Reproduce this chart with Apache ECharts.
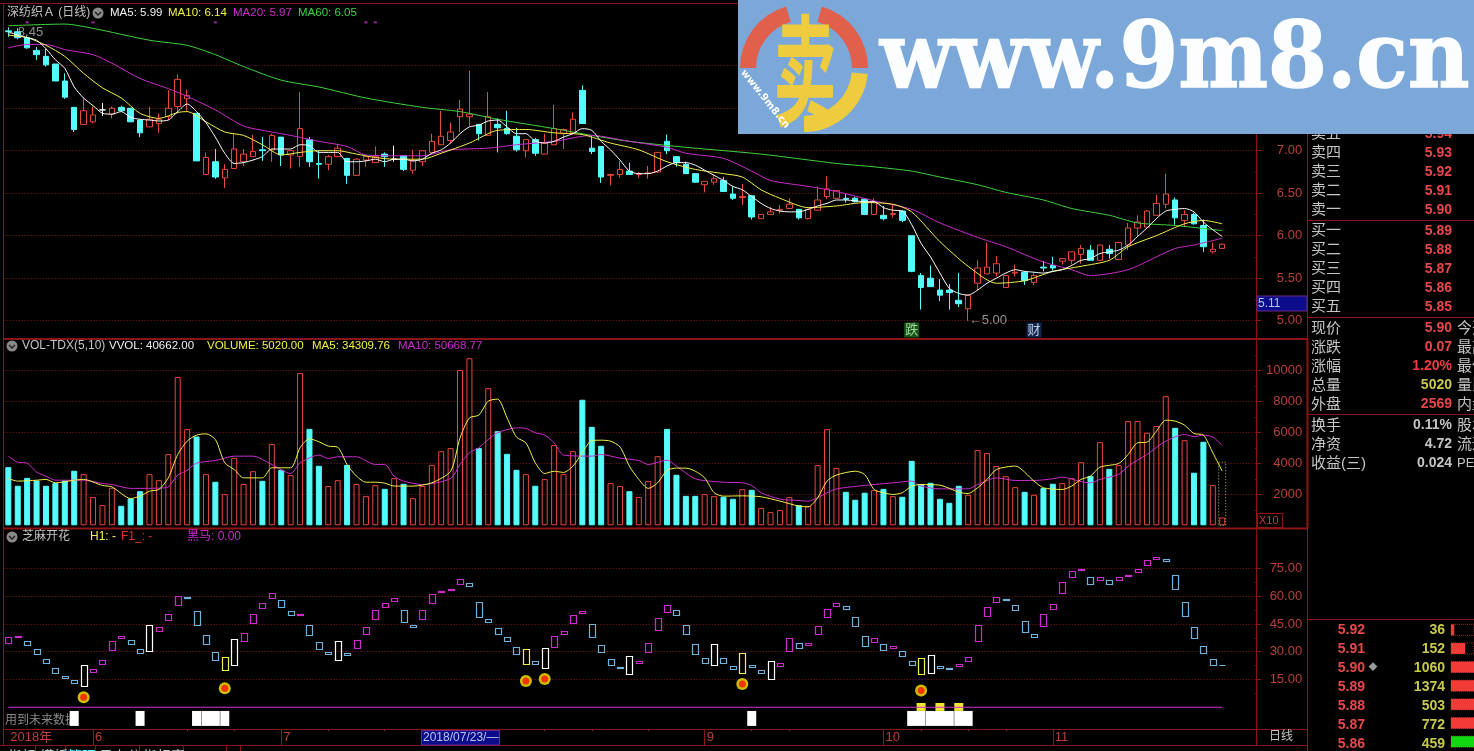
<!DOCTYPE html>
<html>
<head>
<meta charset="utf-8">
<title>深纺织A</title>
<style>
  html, body { margin:0; padding:0; background:#000; overflow:hidden; }
  #chart { width:1474px; height:751px; }
</style>
<script src="https://cdn.jsdelivr.net/npm/echarts@6/dist/echarts.min.js"></script>
</head>
<body>
<div id="chart"></div>
<script>
// candles
var opens = [8.41,8.40,8.33,8.18,8.11,8.02,7.82,7.51,7.31,7.34, 7.48,7.43,7.51,7.50,7.36,7.28,7.32,7.40,7.52,7.61,
  7.44,6.72,6.87,6.68,6.79,6.87,6.93,7.01,7.01,7.16, 6.95,6.93,7.13,6.85,6.84,6.93,6.91,6.71,6.89,6.86,
  6.96,6.90,6.94,6.77,6.87,6.98,7.07,7.12,7.40,7.40, 7.31,7.18,7.31,7.26,7.17,7.00,7.13,6.96,7.07,7.20,
  7.21,7.71,7.03,7.05,6.71,6.72,6.76,6.72,6.73,6.75, 7.11,6.93,6.84,6.73,6.60,6.63,6.65,6.49,6.45,6.47,
  6.20,6.25,6.30,6.32,6.31,6.20,6.30,6.46,6.44,6.44, 6.44,6.43,6.25,6.24,6.25,6.29,6.00,5.53,5.50,5.36,
  5.36,5.24,5.14,5.44,5.55,5.56,5.39,5.56,5.57,5.45, 5.63,5.65,5.70,5.71,5.78,5.83,5.71,5.84,5.72,5.89,
  6.09,6.10,6.24,6.37,6.42,6.18,6.25,6.12,5.81,5.85];
var closes = [8.40,8.33,8.21,8.13,8.01,7.82,7.63,7.25,7.47,7.42, 7.48,7.50,7.47,7.34,7.21,7.37,7.37,7.50,7.84,7.65,
  6.88,6.92,6.69,6.78,7.02,6.96,6.99,7.00,7.18,6.95, 7.00,7.26,6.87,6.84,6.93,7.03,6.71,6.90,6.93,6.93,
  6.93,6.90,6.78,6.88,7.00,7.11,7.17,7.22,7.49,7.43, 7.20,7.40,7.27,7.20,7.01,7.13,6.97,7.09,7.26,7.25,
  7.37,7.32,6.99,6.69,6.72,6.78,6.72,6.73,6.74,6.98, 7.00,6.86,6.73,6.63,6.64,6.67,6.52,6.44,6.46,6.22,
  6.25,6.28,6.31,6.37,6.21,6.31,6.42,6.55,6.53,6.43, 6.40,6.25,6.40,6.20,6.26,6.18,5.58,5.39,5.40,5.30,
  5.33,5.20,5.30,5.62,5.63,5.67,5.53,5.57,5.47,5.53, 5.62,5.62,5.73,5.81,5.85,5.71,5.89,5.79,5.92,6.09,
  6.16,6.29,6.38,6.49,6.21,6.25,6.14,5.87,5.84,5.90];
var lows = [8.34,8.31,8.20,8.07,7.99,7.82,7.61,7.22,7.31,7.32, 7.41,7.38,7.46,7.34,7.16,7.28,7.21,7.36,7.44,7.47,
  6.88,6.72,6.67,6.56,6.79,6.82,6.93,6.88,6.87,6.82, 6.79,6.81,6.81,6.67,6.77,6.93,6.61,6.71,6.81,6.86,
  6.81,6.87,6.76,6.73,6.82,6.98,7.07,7.09,7.22,7.29, 7.12,7.18,6.98,7.19,6.99,6.92,6.94,6.96,7.07,7.02,
  7.21,7.32,6.96,6.62,6.59,6.68,6.72,6.68,6.67,6.74, 6.96,6.81,6.73,6.62,6.51,6.60,6.52,6.42,6.36,6.19,
  6.20,6.25,6.26,6.32,6.19,6.19,6.30,6.43,6.44,6.39, 6.39,6.25,6.25,6.18,6.21,6.16,5.57,5.13,5.40,5.23,
  5.13,5.16,5.00,5.36,5.55,5.52,5.39,5.52,5.42,5.42, 5.58,5.59,5.66,5.66,5.67,5.71,5.71,5.73,5.72,5.83,
  5.99,6.10,6.24,6.32,6.13,6.10,6.13,5.81,5.79,5.85];
var highs = [8.45,8.44,8.35,8.22,8.20,8.02,7.91,7.51,7.62,7.52, 7.56,7.52,7.53,7.50,7.36,7.52,7.44,7.71,7.90,7.72,
  7.44,6.98,7.02,6.84,7.20,7.02,7.19,7.16,7.20,7.16, 7.00,7.69,7.16,7.00,6.95,7.08,6.91,6.91,6.93,7.05,
  6.98,7.06,6.94,7.01,7.00,7.20,7.47,7.33,7.60,7.94, 7.31,7.69,7.38,7.47,7.27,7.13,7.15,7.20,7.54,7.26,
  7.45,7.77,7.18,7.05,6.73,6.88,6.86,6.75,6.82,6.98, 7.19,6.93,6.87,6.73,6.64,6.72,6.69,6.58,6.61,6.48,
  6.25,6.34,6.36,6.44,6.31,6.31,6.58,6.70,6.53,6.49, 6.46,6.43,6.44,6.35,6.37,6.30,6.00,5.56,5.65,5.49,
  5.43,5.56,5.30,5.71,5.92,5.76,5.53,5.66,5.58,5.56, 5.70,5.75,5.73,5.81,5.89,5.89,5.89,5.89,5.93,6.15,
  6.24,6.30,6.48,6.73,6.45,6.30,6.27,6.19,5.92,5.91];

var ma5 = [8.40,8.36,8.33,8.30,8.20,8.07,7.97,7.75,7.62,7.53, 7.44,7.43,7.46,7.39,7.37,7.36,7.35,7.36,7.46,7.55,
  7.46,7.33,7.16,6.97,6.85,6.86,6.89,6.93,7.02,7.02, 7.02,7.07,7.06,6.98,6.98,6.98,6.87,6.87,6.88,6.90,
  6.87,6.90,6.90,6.88,6.90,6.97,7.01,7.09,7.20,7.28, 7.30,7.35,7.36,7.28,7.20,7.20,7.11,7.09,7.11,7.16,
  7.20,7.26,7.24,7.11,7.01,6.89,6.76,6.73,6.73,6.76, 6.82,6.86,6.86,6.83,6.77,6.71,6.65,6.58,6.54,6.46,
  6.38,6.32,6.29,6.28,6.28,6.31,6.35,6.38,6.42,6.42, 6.41,6.40,6.40,6.33,6.30,6.29,6.13,5.91,5.75,5.56,
  5.38,5.32,5.30,5.36,5.44,5.50,5.56,5.60,5.58,5.57, 5.56,5.58,5.60,5.65,5.71,5.73,5.79,5.81,5.83,5.89,
  5.99,6.09,6.20,6.29,6.31,6.32,6.28,6.16,6.07,5.99];
// slower averages, sampled as [bar, value]
var ma10 = [[0,8.36],[2,8.33],[4,8.24],[6,8.11],[8,7.91],[10,7.74],[12,7.62],[14,7.44],[16,7.38],[18,7.45],[19,7.46],[21,7.34],[23,7.22],[25,7.18],[27,7.07],[29,6.95],[31,6.98],[33,7.00],[35,7.00],[37,6.96],[39,6.92],[41,6.90],[44,6.90],[46,6.97],[49,7.09],[52,7.24],[55,7.25],[58,7.21],[61,7.19],[64,7.09],[67,7.01],[70,6.87],[73,6.78],[76,6.73],[78,6.69],[80,6.54],[82,6.44],[85,6.33],[88,6.35],[91,6.39],[94,6.37],[96,6.28],[99,5.93],[102,5.64],[105,5.44],[108,5.47],[111,5.58],[114,5.64],[117,5.71],[119,5.87],[122,6.00],[125,6.14],[127,6.18],[129,6.14]];
var ma20 = [[0,8.21],[2,8.25],[4,8.25],[6,8.19],[9,8.13],[11,8.03],[14,7.85],[17,7.73],[19,7.64],[22,7.48],[25,7.29],[27,7.24],[30,7.18],[33,7.11],[36,7.05],[38,6.95],[41,6.94],[44,6.94],[47,7.01],[51,7.03],[54,7.07],[58,7.11],[62,7.18],[66,7.11],[70,7.04],[72,6.97],[76,6.91],[79,6.76],[81,6.65],[85,6.58],[88,6.52],[92,6.41],[96,6.31],[99,6.15],[103,5.98],[106,5.87],[110,5.69],[113,5.60],[115,5.53],[119,5.60],[122,5.75],[124,5.85],[126,5.89],[129,5.97]];
var ma60 = [[0,8.47],[6,8.49],[9,8.44],[15,8.30],[19,8.24],[22,8.13],[25,7.99],[29,7.83],[33,7.75],[38,7.62],[44,7.51],[48,7.46],[52,7.37],[58,7.26],[62,7.18],[66,7.11],[72,7.04],[80,6.96],[88,6.85],[92,6.81],[96,6.76],[99,6.69],[103,6.60],[106,6.51],[110,6.42],[113,6.32],[117,6.24],[120,6.15],[124,6.12],[129,6.06]];

// volume pane, in the units of its own axis
var volumes = [3750,2550,3060,2890,2550,2720,2890,3520,3300,1820, 1300,2420,1260,1730,2200,3300,2910,4590,9560,6200,
  5730,3300,2810,2010,4350,2660,3490,2870,5240,3580, 3240,9820,6220,3840,2530,2910,3900,2660,1880,2590,
  2350,3040,2680,1750,2530,3900,4780,4980,10010,10780, 4980,8850,6070,4610,3580,3300,2550,2980,5170,3300,
  4780,8100,6350,5130,2720,2530,2200,1820,2850,4460, 6220,3260,1900,1900,2010,1880,1840,1710,2330,2290,
  1110,850,980,1820,1300,1240,3880,6200,3690,2160, 1650,2100,2270,2350,1880,1840,4160,2660,2740,1710,
  1450,2550,1970,4850,4660,3820,3170,2460,2160,1970, 2400,2680,2720,3040,4070,3190,5360,3640,3880,6720,
  6720,5970,6400,8330,6290,5490,3390,5390,2590,502];
var volForecast = [[129,4070]];
var volMa5 = [[0,3020],[1,2850],[3,2910],[4,2960],[5,2740],[7,2910],[8,2960],[10,2570],[11,2480],[13,1730],[14,1880],[15,2200],[16,2310],[17,3060],[18,4570],[19,5430],[20,5820],[21,5900],[22,5540],[23,4030],[24,3600],[25,3060],[27,3060],[28,3710],[30,3710],[31,5000],[32,5580],[33,5390],[34,5110],[35,5040],[36,3920],[37,3170],[38,2780],[39,2780],[40,2720],[41,2530],[43,2530],[45,2740],[47,3490],[48,5640],[49,6930],[50,7110],[51,8010],[52,8140],[53,6930],[54,5690],[55,5320],[56,4030],[57,3340],[58,3490],[59,3410],[60,3820],[61,4680],[62,5470],[63,5490],[64,5430],[65,5060],[66,3820],[67,2960],[68,2380],[69,2740],[70,3540],[71,3690],[72,3690],[73,3490],[74,3060],[75,2100],[76,1880],[78,1900],[80,1840],[82,1560],[84,1240],[85,1190],[86,1770],[87,2850],[88,3240],[90,3490],[91,3280],[92,2310],[93,2100],[94,1990],[95,2100],[96,2530],[97,2630],[99,2590],[101,2140],[102,2050],[103,2420],[104,2960],[105,3600],[107,3820],[109,2850],[110,2420],[112,2310],[113,2530],[114,2960],[115,3170],[116,3750],[118,3990],[119,4570],[120,5320],[121,5360],[122,6070],[123,6780],[124,6720],[125,6460],[126,5920],[127,5820],[128,4680],[129,3490]];
var volMa10 = [[0,4460],[1,4070],[2,4010],[3,3430],[4,3170],[5,2910],[8,2910],[10,2700],[11,2630],[13,2380],[16,2400],[17,2480],[18,3240],[19,3540],[20,4010],[22,4180],[24,4460],[26,4460],[28,3920],[30,3340],[31,4030],[33,4530],[34,4310],[35,4420],[37,4420],[39,3920],[40,3920],[41,3170],[42,2850],[44,2630],[47,3020],[48,3920],[49,4680],[50,5000],[51,5540],[52,5970],[54,6290],[55,6250],[56,5970],[57,5820],[58,5320],[59,4530],[62,4460],[63,4570],[65,4330],[67,4180],[68,3920],[70,4200],[71,3820],[73,3000],[76,2780],[78,2740],[79,2570],[80,2100],[82,1690],[84,1600],[85,1560],[87,2100],[88,2350],[91,2570],[94,2740],[96,2850],[97,2530],[99,2350],[102,2350],[103,2630],[105,3060],[107,2890],[109,2890],[111,3000],[112,3110],[114,2810],[115,2740],[116,2960],[118,3280],[119,3820],[121,4570],[123,5430],[125,5860],[126,5710],[127,5820],[128,5690],[129,5150]];

// lower indicator: box tops and bottoms, one kind letter per bar
var kdTops = [37.8,38.3,35.6,31.3,25.9,21.0,16.7,14.6,22.7,20.5, 25.4,35.6,38.3,36.2,31.3,44.3,43.2,50.2,60.0,59.6,
  51.9,38.9,29.7,27.0,36.7,40.0,50.2,56.2,61.6,57.8, 51.9,50.2,44.3,35.1,29.7,35.6,29.1,36.2,43.2,52.4,
  56.2,59.1,52.4,44.3,52.4,61.0,62.7,63.7,69.1,67.0, 56.7,47.5,42.7,37.8,32.4,31.3,24.8,31.8,38.3,41.0,
  49.7,51.9,44.8,33.5,25.9,21.6,27.5,24.8,34.6,48.1, 55.5,52.4,44.3,34.0,26.4,34.0,26.4,22.1,29.1,22.7,
  20.0,24.8,23.7,37.3,34.6,34.6,43.7,52.9,56.2,54.6, 48.6,38.3,37.3,34.0,32.9,30.2,24.8,26.4,28.1,22.1,
  21.0,23.2,27.0,44.3,54.0,59.4,58.3,55.1,46.4,39.4, 50.2,55.6,67.5,73.5,74.6,70.2,70.2,68.6,70.2,71.3,
  74.6,79.4,81.0,80.0,71.3,56.7,43.2,32.9,25.9,22.7];
var kdBottoms = [34.4,37.8,33.3,28.4,23.6,18.2,15.5,12.8,11.1,18.7, 23.0,30.6,37.1,33.8,29.1,30.0,40.9,46.8,54.9,59.2,
  44.1,33.8,25.2,19.8,22.7,35.8,45.2,53.3,58.7,53.8, 49.7,49.7,38.7,31.1,28.4,25.4,28.1,31.7,39.2,47.3,
  53.8,57.6,45.7,43.2,47.5,56.4,61.9,63.0,66.3,65.4, 48.4,45.7,39.2,35.6,28.4,23.0,23.0,21.0,32.4,39.2,
  45.2,50.6,37.6,29.7,22.7,21.0,17.8,23.7,29.7,41.4, 51.9,49.7,39.4,28.4,23.7,22.7,23.7,20.5,18.3,21.6,
  18.3,15.1,22.1,30.2,31.8,33.5,39.4,48.6,54.6,52.9, 43.7,32.9,35.1,30.8,31.8,27.5,22.7,17.8,18.3,21.0,
  20.5,22.1,24.8,35.6,49.1,56.7,57.8,52.4,40.5,37.8, 43.6,52.9,61.6,70.2,74.0,66.4,68.6,66.4,68.6,70.8,
  72.9,76.7,80.0,78.9,63.7,49.1,37.3,29.1,22.7,22.7];
var kdKinds = ('mmbbbbbbwm' + 'mmmbbwmmmb' + 'bbbywmmmmb' + 'bmbbbwbmmm' + 'mmbbmmmmmb' + 'bbbbbybwmm' + 'mmbbbbwmmm' +
  'mbbbbwbbyb' + 'bwmmbmmmmb' + 'bbmbmbbywb' + 'bmmmmmbbbb' + 'mmmmmbmbmm' + 'mmmbbbbbbb').split('');
var kdDots = [[8,5.4],[23,10.2],[55,14.2],[57,15.3],[78,12.6],[97,9.1]];
var zeroLine = kdKinds.map(function () { return 0; });
var whiteRuns = [[7,7],[14,14],[20,20],[21,22],[23,23],[79,79],[96,97],[98,100],[101,102]];
var yellowBlocks = [97,99,101];
var topMarks = [[2,8.51],[9,8.51],[22,8.51],[38,8.51],[39,8.51]];

// axis ticks
var priceTicks = [5,5.5,6,6.5,7,7.5,8];
var priceMinor = [5.25,5.75,6.25,6.75,7.25,7.75];
var volTicks = [2000,4000,6000,8000,10000];
var volMinor = [1000,3000,5000,7000,9000,11000];
var kdTicks = [15,30,45,60,75];
var kdMinor = [7.5,22.5,37.5,52.5,67.5];
var monthBars = [0,9,29,50,74,93,111];
var monthNames = ['2018年','6','7','8','9','10','11'];
var weekBars = [19,24,34,40,57,62,68,79,83,97,102,106];
var BAR_SLOTS = 133;

// quote panel
var askLabels = ['卖五','卖四','卖三','卖二','卖一'];
var askPrices = ['5.94','5.93','5.92','5.91','5.90'];
var bidLabels = ['买一','买二','买三','买四','买五'];
var bidPrices = ['5.89','5.88','5.87','5.86','5.85'];
var statLabels = ['现价','涨跌','涨幅','总量','外盘'];
var statValues = ['5.90','0.07','1.20%','5020','2569'];
var statSide = ['今开','最高','最低','量比','内盘'];
var infoLabels = ['换手','净资','收益(三)'];
var infoValues = ['0.11%','4.72','0.024'];
var infoSide = ['股本','流通','PE'];
var tradePrices = ['5.92','5.91','5.90','5.89','5.88','5.87','5.86'];
var tradeVolumes = [36,152,1060,1374,503,772,459];
var tradeColors = ['r','r','r','r','r','r','g'];

var RED = '#e8483e', CYAN = '#54fcfc', FRAME = '#8c1414', DOT = '#7e1c18', TICK = '#b8403a';
var MAG = '#cc2ccc', YEL = '#f2f24c', GRN = '#3fd33f', BLUE = '#6fb3dd', GREY = '#c4c4c4';
var CJK = '"Liberation Sans","Noto Sans CJK SC",sans-serif';

var categories = [];
for (var n = 0; n < BAR_SLOTS; n++) {
  var m = monthBars.indexOf(n);
  categories.push(m >= 0 ? monthNames[m] : '');
}

function text(x, y, str, color, size, align, weight, z) {
  return { type:'text', x:x, y:y, z: z === undefined ? 20 : z, silent:true,
    style:{ text:str, fill:color, align:align || 'left', verticalAlign:'middle',
      font:(weight || 'normal') + ' ' + (size || 12) + 'px ' + CJK } };
}
function line(x1, y1, x2, y2, w, z) {
  return { type:'line', z: z === undefined ? 15 : z, silent:true, shape:{x1:x1,y1:y1,x2:x2,y2:y2},
    style:{ stroke:FRAME, lineWidth:w || 1 } };
}
function icon(x, y) {
  return [
    { type:'circle', z:20, silent:true, shape:{cx:x,cy:y,r:5.5}, style:{fill:'#8a8a8a'} },
    { type:'polyline', z:21, silent:true, shape:{points:[[x-3,y-1],[x,y+2],[x+3,y-1]]}, style:{stroke:'#222',fill:null,lineWidth:1.5} }
  ];
}

var g = [];
// frame
g.push(line(0,3.5,1474,3.5), line(3.5,3,3.5,745), line(1256.5,3,1256.5,745), line(1307.5,0,1307.5,751));
g.push(line(3,339,1308,339,2), line(3,528.5,1308,528.5,2), line(1307.5,339,1307.5,528,2));
g.push(line(3,729.5,1308,729.5), line(0,745.5,1308,745.5));
g.push(line(1308,220.5,1474,220.5), line(1308,317.5,1474,317.5), line(1308,414.5,1474,414.5), line(1308,619.5,1474,619.5));
[35,65,95,139,183,226,240].forEach(function (x) { g.push(line(x+.5,746,x+.5,751)); });
// pane headers
g.push(text(7,13,'深纺织Ａ (日线)',GREY,12));
g = g.concat(icon(98,13));
g.push(text(110,13,'MA5: 5.99','#f0f0f0',11.5), text(168,13,'MA10: 6.14',YEL,11.5), text(233,13,'MA20: 5.97',MAG,11.5), text(298,13,'MA60: 6.05',GRN,11.5));
g = g.concat(icon(12,346));
g.push(text(22,346,'VOL-TDX(5,10)',GREY,12), text(109,346,'VVOL: 40662.00','#f0f0f0',11.5), text(207,346,'VOLUME: 5020.00',YEL,11.5),
  text(312,346,'MA5: 34309.76',YEL,11.5), text(398,346,'MA10: 50668.77',MAG,11.5));
g = g.concat(icon(12,537));
g.push(text(22,537,'芝麻开花',GREY,12), text(90,537,'H1: -',YEL,12), text(121,537,'F1_: -','#d8302c',12), text(187,537,'黑马: 0.00',MAG,12));
g.push(text(5,721,'用到未来数据','#8a8a8a',12,'left','normal',0));
// axis chips
g.push({ type:'rect', z:16, silent:true, shape:{x:1257,y:296,width:50,height:15}, style:{fill:'#0c0c8c',stroke:'#6a2a8a',lineWidth:1} });
g.push(text(1258,303.5,'5.11','#b4c8f0',12));
g.push({ type:'rect', z:16, silent:true, shape:{x:1257.5,y:513.5,width:25,height:14}, style:{fill:'#000',stroke:FRAME,lineWidth:1} });
g.push(text(1259,520.5,'X10',TICK,11));
g.push({ type:'rect', z:16, silent:true, shape:{x:421.5,y:730.5,width:78,height:14.5}, style:{fill:'#0c0c8c',stroke:'#6a2a8a',lineWidth:1} });
g.push(text(423,737.5,'2018/07/23/—','#b4c8f0',12));
g.push(text(1269,737,'日线',GREY,12));
// bottom tabs, mostly cut by the window edge
g.push(text(8,757,'指标',GREY,14), text(40,757,'模板',GREY,14), text(68,757,'管理',CYAN,14), text(99,757,'日上分',GREY,14), text(143,757,'指标窗口',GREY,14));

// quote panel
function rows(labels, values, startY, colors) {
  labels.forEach(function (s, i) {
    var y = startY + i * 19;
    g.push(text(1311,y,s,GREY,15));
    g.push(text(1452,y,values[i],colors ? colors[i] : '#e8484a',14,'right','bold'));
  });
}
rows(askLabels, askPrices, 134, null);
rows(bidLabels, bidPrices, 231, null);
rows(statLabels, statValues, 328.5, ['#e8484a','#e8484a','#f03c44','#c8c84a','#e8484a']);
rows(infoLabels, infoValues, 425.5, [GREY,GREY,GREY]);
statSide.forEach(function (s, i) { g.push(text(1457,328.5+i*19,s,GREY,15)); });
infoSide.forEach(function (s, i) { g.push(text(1457,425.5+i*19,s,GREY,i === 2 ? 13 : 15)); });
tradePrices.forEach(function (s, i) {
  g.push(text(1365,630+i*19,s,'#e8484a',14,'right','bold'));
  g.push(text(1445,630+i*19,String(tradeVolumes[i]),'#c8c84a',14,'right','bold'));
});
g.push(text(1373,668,'◆','#9a9a9a',9,'center'));

// site banner over the chart
g.push({ type:'rect', z:30, silent:true, shape:{x:738,y:0,width:736,height:134}, style:{fill:'#7ba8d8'} });
var PI = Math.PI;
g.push({ type:'sector', z:31, silent:true, shape:{cx:804,cy:68,r:64,r0:48,startAngle:PI*1.0,endAngle:PI*1.41,clockwise:true}, style:{fill:'#e0604c'} });
g.push({ type:'sector', z:31, silent:true, shape:{cx:804,cy:68,r:64,r0:48,startAngle:PI*1.59,endAngle:PI*2,clockwise:true}, style:{fill:'#e0604c'} });
g.push({ type:'sector', z:31, silent:true, shape:{cx:804,cy:68,r:64,r0:48,startAngle:PI*0.03,endAngle:PI*0.5,clockwise:true}, style:{fill:'#eecb3f'} });
g.push({ type:'text', z:32, silent:true, x:805, y:70, scaleX:0.55, scaleY:1.05,
  style:{ text:'卖', fill:'#eecb3f', align:'center', verticalAlign:'middle', font:'bold 115px "Noto Sans CJK SC"' } });
g.push({ type:'text', z:32, silent:true, x:765, y:99, rotation:-0.9,
  style:{ text:'www.9m8.cn', fill:'#fff', align:'center', verticalAlign:'middle', font:'bold 10px "DejaVu Sans"' } });
g.push({ type:'text', z:32, silent:true, x:880, y:63, scaleX:0.92, originX:0, originY:0,
  style:{ text:'www.9m8.cn', fill:'#fbfdff', stroke:'#fbfdff', lineWidth:1.5, align:'left', verticalAlign:'middle', font:'bold 92px "DejaVu Serif"' } });

function kdColor(k) { return k === 'm' ? MAG : k === 'b' ? BLUE : k === 'w' ? '#ffffff' : YEL; }
function renderBox(params, api) {
  var i = api.value(0);
  var a = api.coord([i, api.value(1)]);
  var b = api.coord([i, api.value(2)]);
  var x = Math.round(a[0] - 3) + .5, top = Math.round(a[1]) + .5, h = Math.max(Math.round(b[1] - a[1]), 0);
  return { type:'rect', shape:{x:x,y:top,width:6,height:h},
    style:{ fill:null, stroke:kdColor(kdKinds[i]), lineWidth:1.2 } };
}
function renderBlock(params, api) {
  var a = api.coord([api.value(0), api.value(2)]);
  var b = api.coord([api.value(1), api.value(3)]);
  return { type:'rect', shape:{x:a[0]-4.5,y:a[1],width:b[0]-a[0]+9,height:b[1]-a[1]},
    style:{ fill:api.value(4) === 1 ? '#f2e632' : '#ffffff' } };
}
function lineS(data, color, x, y, z) {
  return { type:'line', xAxisIndex:x, yAxisIndex:y, data:data, showSymbol:false, symbol:'none', smooth:0.25, silent:true,
    z:z || 3, lineStyle:{ color:color, width:1 } };
}
function candleData() {
  return opens.map(function (o, i) {
    var v = [o, closes[i], lows[i], highs[i]];
    if (o === closes[i]) {
      return { value:v, itemStyle:{ color:'#fff', color0:'#fff', borderColor:'#fff', borderColor0:'#fff', borderColorDoji:'#fff' } };
    }
    return v;
  });
}
function volData() {
  return volumes.map(function (v, i) {
    var up = closes[i] >= opens[i];
    return { value:v, itemStyle: up
      ? { color:'rgba(0,0,0,0)', borderColor:RED, borderWidth:1 }
      : { color:CYAN, borderColor:CYAN, borderWidth:1 } };
  });
}
function tradeData() {
  return tradeVolumes.map(function (v, i) {
    return { value:v, itemStyle:{ color: tradeColors[i] === 'r' ? '#f23a36' : '#12d812' } };
  });
}
function yAxis(gridIndex, lo, hi, ticks, digits) {
  return { type:'value', gridIndex:gridIndex, min:lo, max:hi, position:'right', scale:true,
    axisLine:{show:false},
    axisTick:{show:true, customValues:ticks, length:6, lineStyle:{color:FRAME}},
    splitLine:{show:true, lineStyle:{type:[1,2], color:DOT, width:1}},
    axisLabel:{show:true, customValues:ticks, color:TICK, fontSize:13, fontFamily:'Liberation Sans', align:'right', margin:47,
      formatter:function (v) { return v.toFixed(digits); } } };
}
function minorAxis(gridIndex, lo, hi, ticks) {
  return { type:'value', gridIndex:gridIndex, min:lo, max:hi, position:'right', scale:true,
    axisLine:{show:false}, splitLine:{show:false}, axisLabel:{show:false},
    axisTick:{show:true, customValues:ticks, length:2, lineStyle:{color:FRAME}} };
}
var gridL = 3.63, gridW = 9.41 * BAR_SLOTS;
function xAxis(gridIndex, extra) {
  return Object.assign({ type:'category', gridIndex:gridIndex, data:categories, boundaryGap:true, position:'bottom',
    axisLine:{show:false, onZero:false}, axisTick:{show:false}, axisLabel:{show:false}, splitLine:{show:false} }, extra || {});
}

var option = {
  animation:false,
  backgroundColor:'#000',
  graphic:{ elements:g },
  grid:[
    { left:gridL, width:gridW, top:3, height:335 },
    { left:gridL, width:gridW, top:339, height:188 },
    { left:gridL, width:gridW, top:529, height:200 },
    { left:1451, width:23, top:620.5, height:133 }
  ],
  xAxis:[
    xAxis(0),
    xAxis(1),
    xAxis(2, { axisLabel:{ show:true, interval:0, color:TICK, fontSize:13, fontFamily:CJK, align:'left', margin:2, padding:[0,0,0,2] },
      axisTick:{ show:true, alignWithLabel:true, length:16, lineStyle:{color:FRAME},
        interval:function (i) { return i > 0 && monthBars.indexOf(i) >= 0; } } }),
    xAxis(2, { axisTick:{ show:true, alignWithLabel:true, length:2, lineStyle:{color:'#b03030'},
        interval:function (i) { return weekBars.indexOf(i) >= 0; } } }),
    { type:'value', gridIndex:3, min:0, max:250, show:false }
  ],
  yAxis:[
    yAxis(0, 4.796, 8.738, priceTicks, 2),
    yAxis(1, -110, 12019, volTicks, 0),
    yAxis(2, -11.76, 96.35, kdTicks, 2),
    minorAxis(0, 4.796, 8.738, priceMinor),
    minorAxis(1, -110, 12019, volMinor),
    minorAxis(2, -11.76, 96.35, kdMinor),
    { type:'category', gridIndex:3, inverse:true, data:tradePrices, show:false }
  ],
  series:[
    { type:'candlestick', xAxisIndex:0, yAxisIndex:0, barWidth:6, silent:true, data:candleData(), z:2,
      itemStyle:{ color:'rgba(0,0,0,0)', color0:CYAN, borderColor:RED, borderColor0:CYAN, borderWidth:1 } },
    lineS(ma60, GRN, 0, 0),
    lineS(ma20, MAG, 0, 0),
    lineS(ma10, YEL, 0, 0),
    lineS(ma5, '#ffffff', 0, 0),
    { type:'scatter', xAxisIndex:0, yAxisIndex:0, symbol:'rect', symbolSize:[3,2], silent:true, data:topMarks, itemStyle:{color:MAG} },
    { type:'scatter', xAxisIndex:0, yAxisIndex:0, symbolSize:1, silent:true, z:6, itemStyle:{color:'#999'},
      data:[{ value:[0,8.45], label:{ show:true, position:'right', distance:-4, offset:[0,5], formatter:'←8.45', color:'#b4b4b4', fontSize:13, fontFamily:'Liberation Sans' } },
            { value:[102,5.00], label:{ show:true, position:'right', distance:0, formatter:'←5.00', color:'#b4b4b4', fontSize:13, fontFamily:'Liberation Sans' } },
            { value:[96,4.89], label:{ show:true, position:'inside', formatter:'跌', color:'#c8f0c0', backgroundColor:'#1c6a1c', padding:[1,1], fontSize:13, fontFamily:CJK } },
            { value:[109,4.89], label:{ show:true, position:'inside', formatter:'财', color:'#e8f0ff', backgroundColor:'#14305f', padding:[1,1], fontSize:13, fontFamily:CJK } }] },

    { type:'bar', xAxisIndex:1, yAxisIndex:1, barWidth:6, silent:true, data:volData(), z:2 },
    { type:'custom', xAxisIndex:1, yAxisIndex:1, silent:true, z:2, data:volForecast,
      renderItem:function (params, api) {
        var a = api.coord([api.value(0), api.value(1)]), b = api.coord([api.value(0), 0]);
        return { type:'rect', shape:{x:a[0]-3.5,y:a[1],width:7,height:b[1]-a[1]},
          style:{ fill:null, stroke:'#c8c84a', lineWidth:1, lineDash:[1,2] } };
      } },
    lineS(volMa10, MAG, 1, 1),
    lineS(volMa5, YEL, 1, 1),

    { type:'custom', xAxisIndex:2, yAxisIndex:2, silent:true, z:2, clip:false,
      data:kdTops.map(function (t, i) { return [i, t, kdBottoms[i]]; }), renderItem:renderBox },
    { type:'custom', xAxisIndex:2, yAxisIndex:2, silent:true, z:2,
      data:whiteRuns.map(function (r) { return [r[0], r[1], -2, -10.1, 0]; }).concat(yellowBlocks.map(function (i) { return [i, i, 2.3, -2, 1]; })),
      renderItem:renderBlock },
    { type:'line', xAxisIndex:2, yAxisIndex:2, data:zeroLine, symbol:'none', silent:true, z:4, lineStyle:{color:'#d030d0',width:1.2} },
    { type:'scatter', xAxisIndex:2, yAxisIndex:2, symbolSize:12, silent:true, z:4, data:kdDots, itemStyle:{color:'#ffef00'} },
    { type:'scatter', xAxisIndex:2, yAxisIndex:2, symbolSize:7, silent:true, z:5, data:kdDots, itemStyle:{color:'#ff1000'} },

    { type:'bar', xAxisIndex:4, yAxisIndex:6, barWidth:11, silent:true, clip:true, data:tradeData(), showBackground:true,
      backgroundStyle:{ color:'rgba(0,0,0,0)', borderColor:'#8c3030', borderWidth:1, borderType:'dotted' } }
  ]
};

var chart = echarts.init(document.getElementById('chart'));
chart.setOption(option);
</script>
</body>
</html>
